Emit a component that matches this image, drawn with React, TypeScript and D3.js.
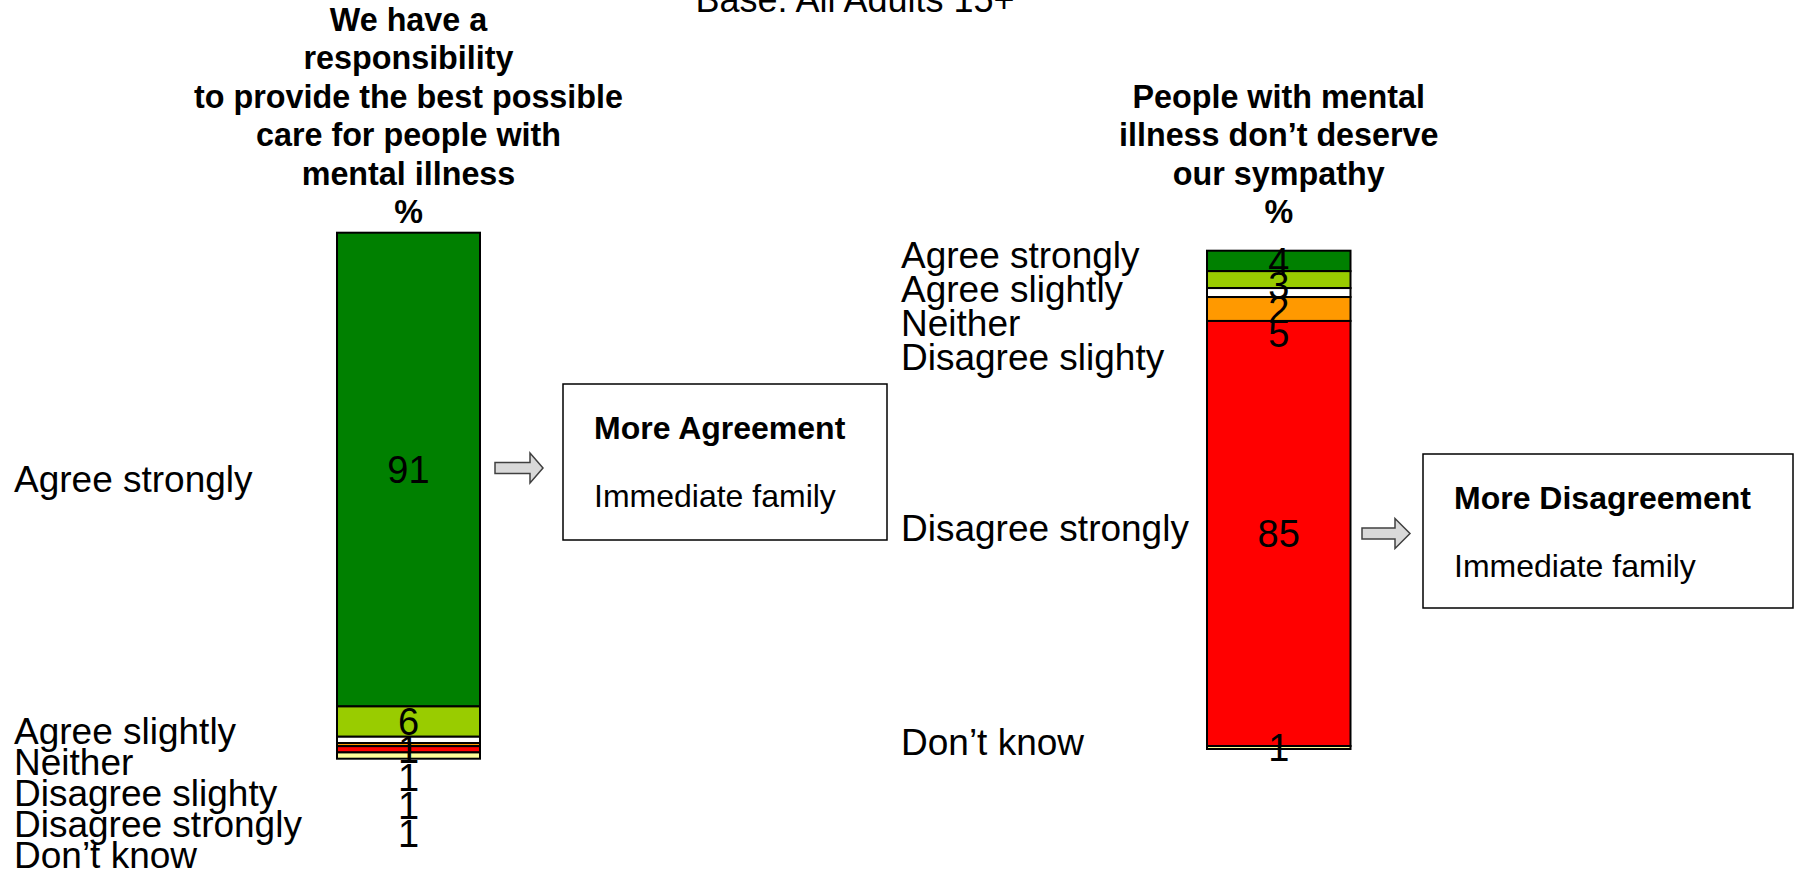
import React from "react";
import * as d3 from "d3";

const CATEGORIES = ["Agree strongly", "Agree slightly", "Neither", "Disagree slighty", "Disagree strongly", "Don\u2019t know"];
const COLORS = ["#008000", "#99CC00", "#FFFFFF", "#FF9900", "#FF0000", "#FFFF99"];
const RESPONSIBILITY_VALUES = [90.6, 5.8, 1.2, 0.6, 1.2, 1.2];
const SYMPATHY_VALUES = [4.1, 3.4, 1.8, 4.8, 85.3, 0.6];
const RESPONSIBILITY_TITLE = ["We have a", "responsibility", "to provide the best possible", "care for people with", "mental illness", "%"];
const SYMPATHY_TITLE = ["People with mental", "illness don\u2019t deserve", "our sympathy", "%"];
const BASE_TEXT = "Base: All Adults 15+";
const BOX_HEADINGS = ["More Agreement", "More Disagreement"];
const BOX_SUBTEXT = "Immediate family";

const FONT = "'Liberation Sans', Arial, Helvetica, sans-serif";

const PANELS = [
  {
    values: RESPONSIBILITY_VALUES,
    title: RESPONSIBILITY_TITLE,
    heading: BOX_HEADINGS[0],
    barX: 337, barW: 143, top: 232.7, bottom: 758.7,
    labelX: 14,
    numGap: 28, catGap: 31, catShift: 9,
    arrow: { x0: 495, xh: 530, x1: 543, cy: 468 },
    box: { x: 563, y: 384, w: 324, h: 156 },
  },
  {
    values: SYMPATHY_VALUES,
    title: SYMPATHY_TITLE,
    heading: BOX_HEADINGS[1],
    barX: 1207, barW: 143.5, top: 250.7, bottom: 749,
    labelX: 901,
    numGap: 24, catGap: 34, catShift: -6,
    arrow: { x0: 1362, xh: 1395, x1: 1410, cy: 533.5 },
    box: { x: 1423, y: 454, w: 370, h: 154 },
  },
];

function spread(centers: number[], gap: number): number[] {
  const out: number[] = [];
  centers.forEach((c, i) => {
    out.push(i === 0 ? c : Math.max(c, out[i - 1] + gap));
  });
  return out;
}

function Panel({ p }: { p: any }) {
  const total = d3.sum(p.values as number[]);
  const y = d3.scaleLinear().domain([0, total]).range([p.top, p.bottom]);
  const ends = Array.from(d3.cumsum(p.values as number[]));
  const starts = ends.map((e, i) => e - p.values[i]);
  const centers = starts.map((s, i) => y((s + ends[i]) / 2));
  const numY = spread(centers, p.numGap);
  const catY = spread(centers, p.catGap).map((v) => v + p.catShift);
  const fmt = d3.format(".0f");
  const cx = p.barX + p.barW / 2;
  const lineH = 38.4;
  const lastBase = 223;
  const a = p.arrow;
  const sh = 5.5, hh = 15;
  const arrowPath = d3.path();
  arrowPath.moveTo(a.x0, a.cy - sh);
  arrowPath.lineTo(a.xh, a.cy - sh);
  arrowPath.lineTo(a.xh, a.cy - hh);
  arrowPath.lineTo(a.x1, a.cy);
  arrowPath.lineTo(a.xh, a.cy + hh);
  arrowPath.lineTo(a.xh, a.cy + sh);
  arrowPath.lineTo(a.x0, a.cy + sh);
  arrowPath.closePath();

  return (
    <g>
      {p.title.map((t: string, i: number) => (
        <text key={"t" + i} x={cx} y={lastBase - (p.title.length - 1 - i) * lineH}
          textAnchor="middle" fontFamily={FONT} fontWeight="bold" fontSize={32.3} fill="#000">{t}</text>
      ))}
      {p.values.map((v: number, i: number) => (
        <rect key={"r" + i} x={p.barX} y={y(starts[i])} width={p.barW} height={y(ends[i]) - y(starts[i])}
          fill={COLORS[i]} stroke="#000" strokeWidth={2} />
      ))}
      {p.values.map((v: number, i: number) => (
        <text key={"n" + i} x={cx} y={numY[i]} dy="0.36em" textAnchor="middle"
          fontFamily={FONT} fontSize={38} fill="#000">{fmt(v)}</text>
      ))}
      {CATEGORIES.map((c, i) => (
        <text key={"c" + i} x={p.labelX} y={catY[i]} dy="0.36em"
          fontFamily={FONT} fontSize={37} fill="#000">{c}</text>
      ))}
      <path d={arrowPath.toString()} fill="#D9D9D9" stroke="#404040" strokeWidth={1.5} />
      <rect x={p.box.x} y={p.box.y} width={p.box.w} height={p.box.h} fill="#fff" stroke="#000" strokeWidth={1.5} />
      <text x={p.box.x + 31} y={p.box.y + 55} fontFamily={FONT} fontWeight="bold" fontSize={32} fill="#000">{p.heading}</text>
      <text x={p.box.x + 31} y={p.box.y + 123} fontFamily={FONT} fontSize={32} fill="#000">{BOX_SUBTEXT}</text>
    </g>
  );
}

export default function App() {
  return (
    <svg width={1796} height={874} style={{ position: "absolute", left: 0, top: 0, background: "#fff" }}>
      <rect x={0} y={0} width={1796} height={874} fill="#fff" />
      <text x={855} y={12} textAnchor="middle" fontFamily={FONT} fontSize={36} fill="#000">{BASE_TEXT}</text>
      {PANELS.map((p, i) => <Panel key={i} p={p} />)}
    </svg>
  );
}
